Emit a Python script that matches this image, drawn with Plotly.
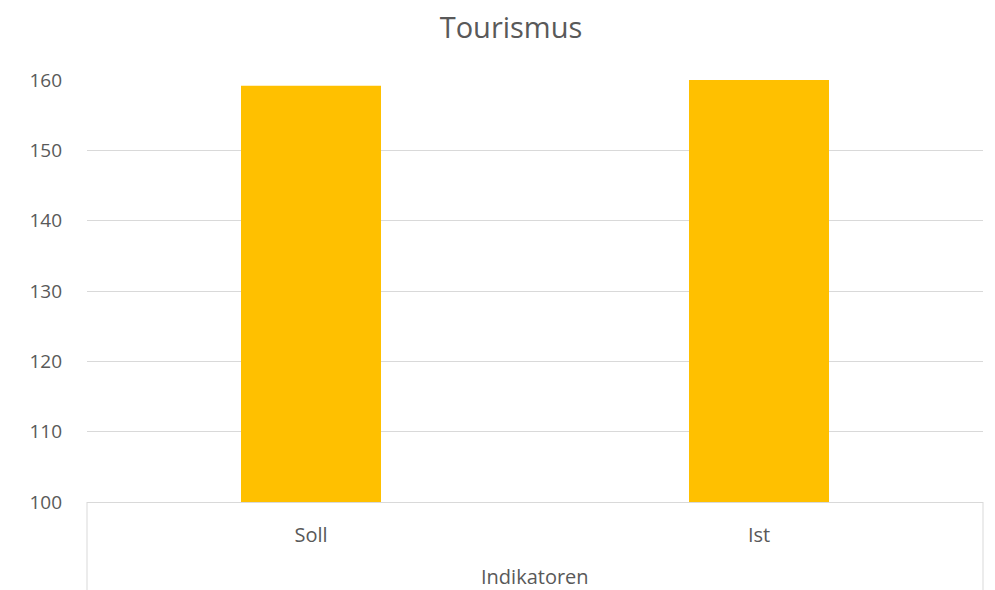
import plotly.graph_objects as go

categories = ["Soll", "Ist"]
values = [159.2, 160.0]
y_ticks = [100, 110, 120, 130, 140, 150, 160]

# the page body adds an 8px margin, so the figure is sized/positioned to compensate
OFF = 8
W, H = 995 - OFF, 590 - OFF
L, R, T, B = 87 - OFF, 12, 80 - OFF, 88
plot_h = H - T - B
font_fam = "Open Sans, sans-serif"
txt = "#595959"
grid = "#d9d9d9"

fig = go.Figure(go.Bar(x=categories, y=values, marker_color="#ffc000", marker_line_width=0))

fig.update_layout(
    width=W, height=H,
    margin=dict(l=L, r=R, t=T, b=B),
    paper_bgcolor="white", plot_bgcolor="white",
    bargap=0.6875,
    showlegend=False,
    font=dict(family=font_fam, color=txt),
    title=dict(text="Tourismus", x=(511 - OFF) / W, xanchor="center", xref="container",
               y=1 - (28 - OFF) / H, yanchor="middle", yref="container",
               font=dict(size=29, color=txt, family=font_fam)),
)
fig.update_yaxes(range=[100, 160], tickvals=y_ticks, showgrid=True, gridcolor=grid, gridwidth=1,
                 zeroline=False, showline=False, ticks="", tickfont=dict(size=19, color=txt),
                 ticklabelstandoff=24)
fig.update_xaxes(showline=True, linecolor=grid, linewidth=1, ticks="", showgrid=False,
                 tickfont=dict(size=20, color=txt), ticklabelstandoff=15)

ext = -B / plot_h
for xp in (0, 1):
    fig.add_shape(type="line", xref="paper", yref="paper", x0=xp, x1=xp, y0=0, y1=ext,
                  line=dict(color=grid, width=1))
fig.add_annotation(text="Indikatoren", xref="paper", yref="paper", x=0.5,
                   y=-(576 - (590 - B)) / plot_h,
                   yanchor="middle", showarrow=False, font=dict(size=20, color=txt, family=font_fam))

fig.write_html("out.html")
